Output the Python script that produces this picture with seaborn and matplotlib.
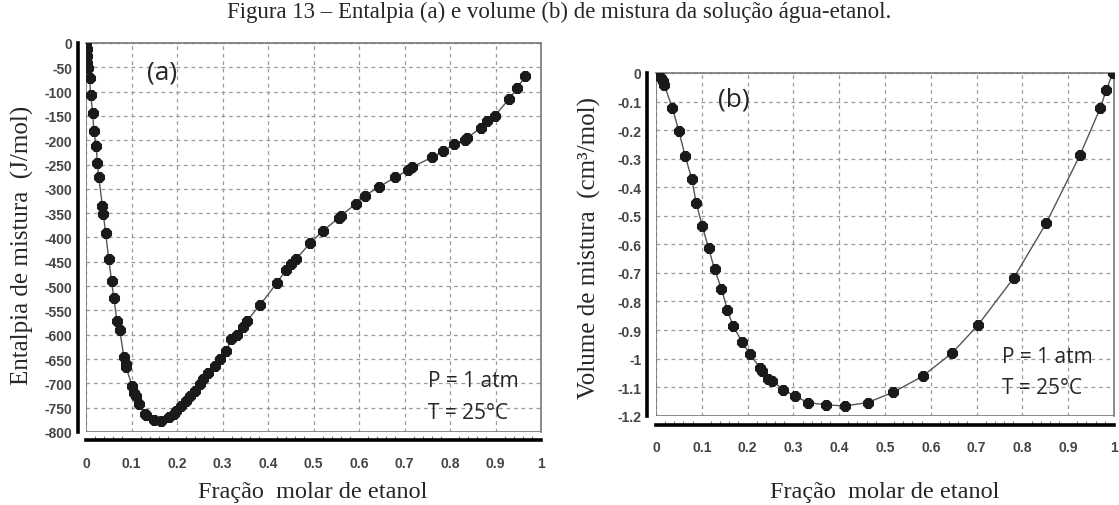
import numpy as np
import pandas as pd
import seaborn as sns
import matplotlib.pyplot as plt
from matplotlib.ticker import MultipleLocator

# dados
x_ent = [0.000, 0.001, 0.001, 0.002, 0.002, 0.003, 0.003, 0.004, 0.008, 0.010,
         0.015, 0.017, 0.017, 0.022, 0.025, 0.028, 0.036, 0.038, 0.043, 0.050,
         0.056, 0.061, 0.068, 0.074, 0.083, 0.087, 0.088, 0.101, 0.105, 0.109,
         0.116, 0.130, 0.131, 0.149, 0.165, 0.182, 0.193, 0.198, 0.209, 0.220,
         0.229, 0.239, 0.250, 0.257, 0.268, 0.283, 0.294, 0.308, 0.319, 0.331,
         0.345, 0.354, 0.383, 0.419, 0.440, 0.451, 0.462, 0.492, 0.520, 0.556,
         0.560, 0.593, 0.613, 0.644, 0.680, 0.707, 0.717, 0.761, 0.784, 0.809,
         0.832, 0.838, 0.867, 0.882, 0.898, 0.930, 0.948, 0.965]
h_ent = [0, -8, -15, -22, -30, -37, -44, -52, -73, -108,
         -144, -176, -185, -211, -247, -276, -336, -352, -391, -445,
         -489, -525, -571, -590, -645, -660, -667, -705, -719, -726,
         -743, -763, -766, -775, -778, -770, -763, -757, -746, -736,
         -726, -715, -702, -691, -678, -664, -650, -633, -609, -601,
         -585, -571, -538, -494, -466, -455, -444, -412, -387, -359,
         -355, -331, -314, -296, -276, -262, -255, -235, -223, -208,
         -199, -195, -175, -161, -150, -115, -93, -68]

x_vol = [0.000, 0.005, 0.010, 0.015, 0.018, 0.036, 0.050, 0.064, 0.078, 0.088,
         0.101, 0.115, 0.128, 0.143, 0.156, 0.168, 0.188, 0.205, 0.227, 0.231,
         0.245, 0.254, 0.278, 0.303, 0.332, 0.371, 0.413, 0.462, 0.518, 0.582,
         0.647, 0.703, 0.781, 0.852, 0.926, 0.970, 0.983, 0.997]
v_vol = [0.000, -0.007, -0.019, -0.027, -0.042, -0.123, -0.204, -0.292, -0.370, -0.456,
         -0.535, -0.614, -0.688, -0.756, -0.829, -0.885, -0.941, -0.985, -1.032, -1.043,
         -1.071, -1.078, -1.109, -1.131, -1.154, -1.162, -1.166, -1.154, -1.118, -1.062,
         -0.980, -0.883, -0.718, -0.526, -0.287, -0.123, -0.061, 0.000]

titulo = "Figura 13 – Entalpia (a) e volume (b) de mistura da solução água-etanol."
xlabel = "Fração  molar de etanol"
ylabel_a = "Entalpia de mistura  (J/mol)"
ylabel_b = "Volume de mistura  (cm³/mol)"

sns.set_style("white")
plt.rcParams['axes.unicode_minus'] = False
plt.rcParams['font.family'] = ['Liberation Sans', 'DejaVu Sans']

serif = ['Liberation Serif', 'DejaVu Serif']
label_font = ['Open Sans', 'DejaVu Sans']

fig = plt.figure(figsize=(11.19, 5.06), dpi=100)
ax1 = fig.add_axes([0.0769, 0.1443, 0.4066, 0.7688])
ax2 = fig.add_axes([0.5862, 0.1765, 0.4093, 0.6773])

df_a = pd.DataFrame({"x": x_ent, "y": h_ent})
df_b = pd.DataFrame({"x": x_vol, "y": v_vol})


def style_axis(ax, ylim, ystep, off, xpad):
    ax.set_xlim(0, 1)
    ax.set_ylim(*ylim)
    ax.xaxis.set_minor_locator(MultipleLocator(0.02))
    ax.yaxis.set_major_locator(MultipleLocator(ystep))
    ax.set_xticks(np.arange(0, 1.01, 0.1))
    ax.set_xticklabels(["0"] + [f"{v:.1f}" for v in np.arange(0.1, 0.95, 0.1)] + ["1"])
    ax.grid(True, which='major', ls=(0, (3, 3)), color='#9a9a9a', lw=0.9)
    # moldura cinza
    for s in ['top', 'right']:
        ax.spines[s].set_color('#777777')
        ax.spines[s].set_linewidth(1.2)
    ax.axvline(0, color='#777777', lw=1.2, zorder=1)
    ax.axhline(ylim[0], color='#777777', lw=1.2, zorder=1)
    # eixos pretos deslocados
    for s in ['left', 'bottom']:
        ax.spines[s].set_position(('outward', off))
        ax.spines[s].set_color('black')
        ax.spines[s].set_linewidth(2.6)
    ax.tick_params(axis='x', which='major', direction='in', length=5, width=1,
                   color='#555555', pad=xpad, labelsize=10, labelcolor='#444444')
    ax.tick_params(axis='x', which='minor', direction='in', length=3, width=0.8,
                   color='#777777', bottom=True)
    ax.tick_params(axis='y', direction='in', length=3, width=1, color='#555555',
                   pad=4, labelsize=10, labelcolor='#444444')
    ax.set_xlabel("")
    ax.set_ylabel("")


sns.lineplot(data=df_a, x="x", y="y", ax=ax1, sort=False, color='#555555', lw=1,
             marker='8', markersize=8, markerfacecolor='#1a1a1a',
             markeredgecolor='#1a1a1a', zorder=5)
sns.lineplot(data=df_b, x="x", y="y", ax=ax2, sort=False, color='#555555', lw=1,
             marker='8', markersize=8, markerfacecolor='#1a1a1a',
             markeredgecolor='#1a1a1a', zorder=5)

style_axis(ax1, (-800, 0), 50, 6, 11)
style_axis(ax2, (-1.2, 0), 0.1, 6.5, 11)
ax2.set_yticks(np.round(np.arange(-1.2, 0.01, 0.1), 1))
ax2.set_yticklabels(["-1.2", "-1.1", "-1", "-0.9", "-0.8", "-0.7", "-0.6", "-0.5",
                     "-0.4", "-0.3", "-0.2", "-0.1", "0"])
for ax in (ax1, ax2):
    for lab in ax.get_xticklabels() + ax.get_yticklabels():
        lab.set_fontweight('bold')

ax1.text(0.133, -60, "(a)", family=label_font, fontsize=19, va='center')
ax1.text(0.752, -694, "P = 1 atm", family=label_font, fontsize=15, va='center')
ax1.text(0.752, -759, "T = 25°C", family=label_font, fontsize=15, va='center')
ax2.text(0.135, -0.09, "(b)", family=label_font, fontsize=19, va='center')
ax2.text(0.755, -0.994, "P = 1 atm", family=label_font, fontsize=15, va='center')
ax2.text(0.755, -1.10, "T = 25°C", family=label_font, fontsize=15, va='center')

fig.text(0.5, 0.975, titulo, ha='center', va='center', family=serif, fontsize=16.5)
fig.text(0.279, 0.026, xlabel, ha='center', va='center', family=serif, fontsize=17.5)
fig.text(0.791, 0.026, xlabel, ha='center', va='center', family=serif, fontsize=17.5)
fig.text(0.020, 0.516, ylabel_a, ha='center', va='center', rotation=90,
         family=serif, fontsize=18)
fig.text(0.527, 0.51, ylabel_b, ha='center', va='center', rotation=90,
         family=serif, fontsize=18)

fig.savefig("out.png", dpi=100)
